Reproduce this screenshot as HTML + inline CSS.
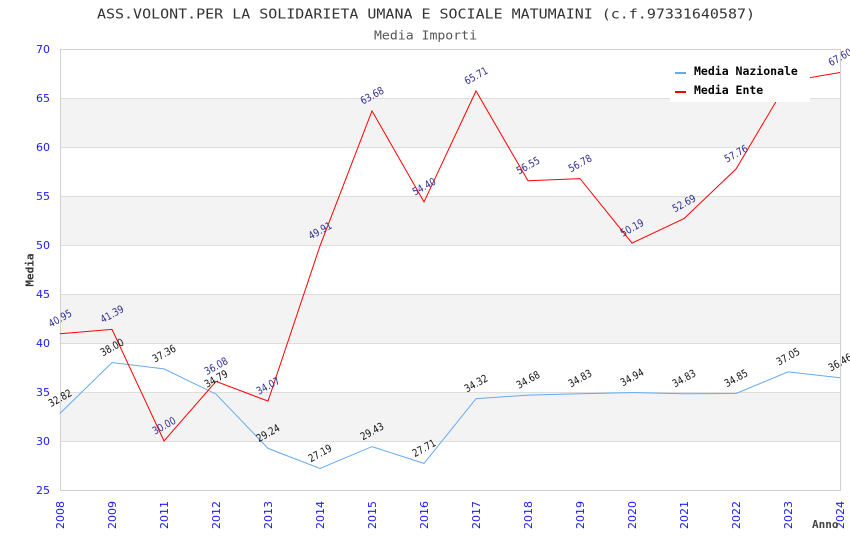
<!DOCTYPE html>
<html><head><meta charset="utf-8"><style>
html,body{margin:0;padding:0;background:#fff;}
svg{display:block;}
</style></head><body>
<svg width="850" height="550" viewBox="0 0 850 550" xmlns="http://www.w3.org/2000/svg">
<rect width="850" height="550" fill="#fff"/>
<text x="97" y="18.5" font-family="DejaVu Sans Mono, Liberation Mono, monospace" font-size="13" fill="#333" textLength="658" lengthAdjust="spacingAndGlyphs">ASS.VOLONT.PER LA SOLIDARIETA UMANA E SOCIALE MATUMAINI (c.f.97331640587)</text>
<text x="374" y="39.5" font-family="DejaVu Sans Mono, Liberation Mono, monospace" font-size="12" fill="#555" textLength="103" lengthAdjust="spacingAndGlyphs">Media Importi</text>
<g fill="#f3f3f3">
<rect x="60" y="98" width="780" height="49"/>
<rect x="60" y="196" width="780" height="49"/>
<rect x="60" y="294" width="780" height="49"/>
<rect x="60" y="392" width="780" height="49"/>
</g>
<g stroke="#dddddd" stroke-width="1">
<line x1="60" y1="98.5" x2="840" y2="98.5"/>
<line x1="60" y1="147.5" x2="840" y2="147.5"/>
<line x1="60" y1="196.5" x2="840" y2="196.5"/>
<line x1="60" y1="245.5" x2="840" y2="245.5"/>
<line x1="60" y1="294.5" x2="840" y2="294.5"/>
<line x1="60" y1="343.5" x2="840" y2="343.5"/>
<line x1="60" y1="392.5" x2="840" y2="392.5"/>
<line x1="60" y1="441.5" x2="840" y2="441.5"/>
</g>
<rect x="60.5" y="49.5" width="780" height="441" fill="none" stroke="#d0d0d0" stroke-width="1"/>
<g font-family="DejaVu Sans, Liberation Sans, sans-serif" font-size="11" fill="#1a1aff" text-anchor="end">
<text x="50" y="53">70</text>
<text x="50" y="102">65</text>
<text x="50" y="151">60</text>
<text x="50" y="200">55</text>
<text x="50" y="249">50</text>
<text x="50" y="298">45</text>
<text x="50" y="347">40</text>
<text x="50" y="396">35</text>
<text x="50" y="445">30</text>
<text x="50" y="494">25</text>
</g>
<g font-family="DejaVu Sans, Liberation Sans, sans-serif" font-size="11" fill="#1a1aff" text-anchor="end">
<text transform="translate(64,501) rotate(-90)">2008</text>
<text transform="translate(116,501) rotate(-90)">2009</text>
<text transform="translate(168,501) rotate(-90)">2011</text>
<text transform="translate(220,501) rotate(-90)">2012</text>
<text transform="translate(272,501) rotate(-90)">2013</text>
<text transform="translate(324,501) rotate(-90)">2014</text>
<text transform="translate(376,501) rotate(-90)">2015</text>
<text transform="translate(428,501) rotate(-90)">2016</text>
<text transform="translate(480,501) rotate(-90)">2017</text>
<text transform="translate(532,501) rotate(-90)">2018</text>
<text transform="translate(584,501) rotate(-90)">2019</text>
<text transform="translate(636,501) rotate(-90)">2020</text>
<text transform="translate(688,501) rotate(-90)">2021</text>
<text transform="translate(740,501) rotate(-90)">2022</text>
<text transform="translate(792,501) rotate(-90)">2023</text>
<text transform="translate(844,501) rotate(-90)">2024</text>
</g>
<text transform="translate(33.5,270) rotate(-90)" text-anchor="middle" font-family="DejaVu Sans Mono, Liberation Mono, monospace" font-weight="bold" font-size="11" fill="#333">Media</text>
<text x="812" y="528" font-family="DejaVu Sans Mono, Liberation Mono, monospace" font-weight="bold" font-size="11" fill="#444">Anno</text>
<polyline fill="none" stroke="#66aaee" stroke-width="1" points="60,413.4 112,362.6 164,368.9 216,394.1 268,448.4 320,468.5 372,446.6 424,463.4 476,398.7 528,395.1 580,393.7 632,392.6 684,393.7 736,393.5 788,371.9 840,377.7"/>
<polyline fill="none" stroke="#ff0000" stroke-width="1" points="60,333.7 112,329.4 164,441 216,381.4 268,401.1 320,245.9 372,110.9 424,201.9 476,91 528,180.8 580,178.6 632,243.1 684,218.6 736,169 788,81.4 840,72.5"/>
<g font-family="DejaVu Sans, Liberation Sans, sans-serif" font-size="10.5" fill="#111" text-anchor="middle">
<text transform="translate(60,397.9) rotate(-29)" dy="3.8" textLength="25" lengthAdjust="spacingAndGlyphs">32.82</text>
<text transform="translate(112,347.1) rotate(-29)" dy="3.8" textLength="25" lengthAdjust="spacingAndGlyphs">38.00</text>
<text transform="translate(164,353.4) rotate(-29)" dy="3.8" textLength="25" lengthAdjust="spacingAndGlyphs">37.36</text>
<text transform="translate(216,378.6) rotate(-29)" dy="3.8" textLength="25" lengthAdjust="spacingAndGlyphs">34.79</text>
<text transform="translate(268,432.9) rotate(-29)" dy="3.8" textLength="25" lengthAdjust="spacingAndGlyphs">29.24</text>
<text transform="translate(320,453) rotate(-29)" dy="3.8" textLength="25" lengthAdjust="spacingAndGlyphs">27.19</text>
<text transform="translate(372,431.1) rotate(-29)" dy="3.8" textLength="25" lengthAdjust="spacingAndGlyphs">29.43</text>
<text transform="translate(424,447.9) rotate(-29)" dy="3.8" textLength="25" lengthAdjust="spacingAndGlyphs">27.71</text>
<text transform="translate(476,383.2) rotate(-29)" dy="3.8" textLength="25" lengthAdjust="spacingAndGlyphs">34.32</text>
<text transform="translate(528,379.6) rotate(-29)" dy="3.8" textLength="25" lengthAdjust="spacingAndGlyphs">34.68</text>
<text transform="translate(580,378.2) rotate(-29)" dy="3.8" textLength="25" lengthAdjust="spacingAndGlyphs">34.83</text>
<text transform="translate(632,377.1) rotate(-29)" dy="3.8" textLength="25" lengthAdjust="spacingAndGlyphs">34.94</text>
<text transform="translate(684,378.2) rotate(-29)" dy="3.8" textLength="25" lengthAdjust="spacingAndGlyphs">34.83</text>
<text transform="translate(736,378) rotate(-29)" dy="3.8" textLength="25" lengthAdjust="spacingAndGlyphs">34.85</text>
<text transform="translate(788,356.4) rotate(-29)" dy="3.8" textLength="25" lengthAdjust="spacingAndGlyphs">37.05</text>
<text transform="translate(840,362.2) rotate(-29)" dy="3.8" textLength="25" lengthAdjust="spacingAndGlyphs">36.46</text>
</g>
<g font-family="DejaVu Sans, Liberation Sans, sans-serif" font-size="10.5" fill="#2e2e90" text-anchor="middle">
<text transform="translate(60,318.2) rotate(-29)" dy="3.8" textLength="25" lengthAdjust="spacingAndGlyphs">40.95</text>
<text transform="translate(112,313.9) rotate(-29)" dy="3.8" textLength="25" lengthAdjust="spacingAndGlyphs">41.39</text>
<text transform="translate(164,425.5) rotate(-29)" dy="3.8" textLength="25" lengthAdjust="spacingAndGlyphs">30.00</text>
<text transform="translate(216,365.9) rotate(-29)" dy="3.8" textLength="25" lengthAdjust="spacingAndGlyphs">36.08</text>
<text transform="translate(268,385.6) rotate(-29)" dy="3.8" textLength="25" lengthAdjust="spacingAndGlyphs">34.07</text>
<text transform="translate(320,230.4) rotate(-29)" dy="3.8" textLength="25" lengthAdjust="spacingAndGlyphs">49.91</text>
<text transform="translate(372,95.4) rotate(-29)" dy="3.8" textLength="25" lengthAdjust="spacingAndGlyphs">63.68</text>
<text transform="translate(424,186.4) rotate(-29)" dy="3.8" textLength="25" lengthAdjust="spacingAndGlyphs">54.40</text>
<text transform="translate(476,75.5) rotate(-29)" dy="3.8" textLength="25" lengthAdjust="spacingAndGlyphs">65.71</text>
<text transform="translate(528,165.3) rotate(-29)" dy="3.8" textLength="25" lengthAdjust="spacingAndGlyphs">56.55</text>
<text transform="translate(580,163.1) rotate(-29)" dy="3.8" textLength="25" lengthAdjust="spacingAndGlyphs">56.78</text>
<text transform="translate(632,227.6) rotate(-29)" dy="3.8" textLength="25" lengthAdjust="spacingAndGlyphs">50.19</text>
<text transform="translate(684,203.1) rotate(-29)" dy="3.8" textLength="25" lengthAdjust="spacingAndGlyphs">52.69</text>
<text transform="translate(736,153.5) rotate(-29)" dy="3.8" textLength="25" lengthAdjust="spacingAndGlyphs">57.76</text>
<text transform="translate(788,65.9) rotate(-29)" dy="3.8" textLength="25" lengthAdjust="spacingAndGlyphs">66.69</text>
<text transform="translate(840,57) rotate(-29)" dy="3.8" textLength="25" lengthAdjust="spacingAndGlyphs">67.60</text>
</g>
<rect x="670" y="57" width="140" height="45" fill="#fff"/>
<rect x="675" y="72" width="11" height="2" fill="#66aaee"/>
<rect x="675" y="91" width="11" height="2" fill="#ff0000"/>
<g font-family="DejaVu Sans Mono, Liberation Mono, monospace" font-weight="bold" font-size="11.5" fill="#000">
<text x="694" y="75">Media Nazionale</text>
<text x="694" y="94">Media Ente</text>
</g>
</svg>
</body></html>
